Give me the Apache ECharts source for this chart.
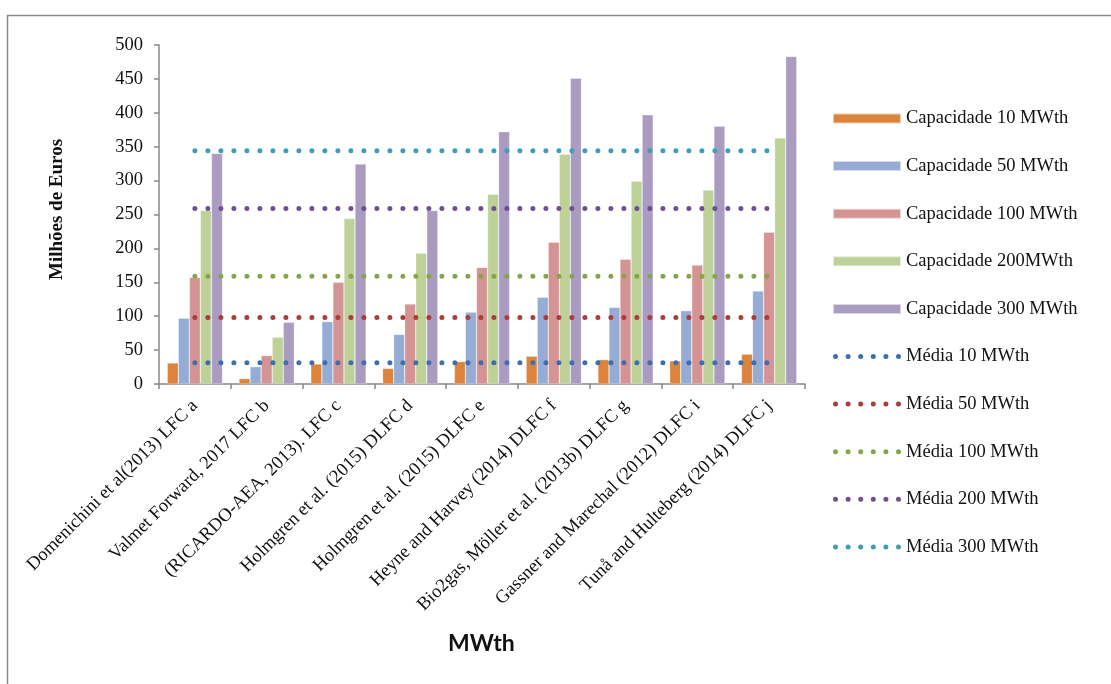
<!DOCTYPE html>
<html>
<head>
<meta charset="utf-8">
<style>
  html, body { margin: 0; padding: 0; background: #fff; }
  #chart { width: 1111px; height: 684px; }
</style>
<script src="https://cdn.jsdelivr.net/npm/echarts@6/dist/echarts.min.js"></script>
</head>
<body>
<div id="chart"></div>
<script>
// Cost per study and plant capacity (million euros)
const categories = [
  'Domenichini et al(2013) LFC a',
  'Valmet Forward, 2017 LFC b',
  '(RICARDO-AEA, 2013). LFC c',
  'Holmgren et al. (2015) DLFC d',
  'Holmgren et al. (2015) DLFC e',
  'Heyne and Harvey (2014) DLFC f',
  'Bio2gas, Möller et al. (2013b) DLFC g',
  'Gassner and Marechal (2012) DLFC i',
  'Tunå and Hulteberg (2014) DLFC j'
];
const cap10  = [31, 8, 29.5, 23, 33, 41, 36, 34, 44];
const cap50  = [97, 25.5, 92, 73, 106, 128, 113, 108, 137];
const cap100 = [157, 42, 150, 118, 172, 209, 184, 175.5, 224];
const cap200 = [256, 69, 244, 193, 280, 339, 299, 286, 363];
const cap300 = [340, 91, 324.5, 256, 372, 451, 397, 380, 483];

// Average per capacity (horizontal reference lines)
const mean10 = 31.4;
const mean50 = 98;
const mean100 = 159;
const mean200 = 259;
const mean300 = 344;

const yTicks = { min: 0, max: 500, interval: 50 };

const serif = 'Liberation Serif';

const barColors = ['#DD843C', '#95ACD5', '#D59494', '#BDD199', '#AA9CC1'];
const meanColors = ['#3E6EAB', '#AA3C3A', '#88A44B', '#6E4F91', '#3B9FB8'];

// six round dots in a 68 x 5 box, used as the legend key of the average lines
const dotIcon = 'path://' + [0, 1, 2, 3, 4, 5].map(i => {
  const cx = 2.5 + i * 12.6;
  return `M${cx - 2.5} 2.5 A2.5 2.5 0 1 0 ${cx + 2.5} 2.5 A2.5 2.5 0 1 0 ${cx - 2.5} 2.5 Z`;
}).join(' ');

function barSeries(name, data, color) {
  return {
    name, type: 'bar', data,
    barGap: '0%', barCategoryGap: '23%',
    itemStyle: { color, borderColor: 'rgba(255,255,255,0.6)', borderWidth: 0.5 }
  };
}
function meanSeries(name, value, color) {
  return {
    name, type: 'line',
    data: categories.map(() => value),
    symbol: 'none', silent: true, z: 5,
    lineStyle: { color, width: 5, type: [0, 13], cap: 'round' },
    itemStyle: { color }
  };
}

const barNames = ['Capacidade 10 MWth', 'Capacidade 50 MWth', 'Capacidade 100 MWth', 'Capacidade 200MWth', 'Capacidade 300 MWth'];
const meanNames = ['Média 10 MWth', 'Média 50 MWth', 'Média 100 MWth', 'Média 200 MWth', 'Média 300 MWth'];

const chart = echarts.init(document.getElementById('chart'), null, { renderer: 'canvas' });
chart.setOption({
  animation: false,
  backgroundColor: '#fff',
  grid: { left: 159, top: 45, width: 646, height: 339, containLabel: false },
  legend: {
    orient: 'vertical', left: 832, top: 108.5, padding: 0,
    itemWidth: 68, itemHeight: 10, itemGap: 27.6,
    textStyle: { fontFamily: serif, fontSize: 18.5, color: '#111', lineHeight: 20 },
    data: [
      ...barNames.map(name => ({ name, icon: 'rect' })),
      ...meanNames.map((name, i) => ({
        name, icon: dotIcon,
        itemStyle: { color: meanColors[i], borderWidth: 0 }
      }))
    ]
  },
  xAxis: {
    type: 'category', data: categories,
    axisLine: { lineStyle: { color: '#888', width: 1.5 } },
    axisTick: { show: true, alignWithLabel: false, length: 5, lineStyle: { color: '#888', width: 1.5 } },
    axisLabel: { interval: 0, rotate: 45, margin: 19, fontFamily: serif, fontSize: 18.5, color: '#111' }
  },
  yAxis: {
    type: 'value', min: yTicks.min, max: yTicks.max, interval: yTicks.interval,
    name: 'Milhões de Euros', nameLocation: 'middle', nameRotate: 90, nameGap: 92,
    nameTextStyle: { fontFamily: serif, fontSize: 19, fontWeight: 'bold', color: '#111', padding: [0, 0, 0, 10] },
    axisLine: { show: true, lineStyle: { color: '#888', width: 1.5 } },
    axisTick: { show: true, length: 5, lineStyle: { color: '#888', width: 1.5 } },
    splitLine: { show: false },
    axisLabel: { margin: 16, fontFamily: serif, fontSize: 18.5, color: '#111' }
  },
  series: [
    ...barNames.map((n, i) => barSeries(n, [cap10, cap50, cap100, cap200, cap300][i], barColors[i])),
    meanSeries(meanNames[0], mean10, meanColors[0]),
    meanSeries(meanNames[1], mean50, meanColors[1]),
    meanSeries(meanNames[2], mean100, meanColors[2]),
    meanSeries(meanNames[3], mean200, meanColors[3]),
    meanSeries(meanNames[4], mean300, meanColors[4])
  ],
  graphic: [
    // chart frame (top and left edges)
    { type: 'line', shape: { x1: 7, y1: 15.5, x2: 1111, y2: 15.5 }, style: { stroke: '#8a8a8a', lineWidth: 1.5 } },
    { type: 'line', shape: { x1: 7.5, y1: 15, x2: 7.5, y2: 684 }, style: { stroke: '#8a8a8a', lineWidth: 1.5 } },
    // horizontal axis title
    { type: 'text', left: 448, top: 632,
      style: { text: 'MWth', font: 'bold 23px Lato', fill: '#111' } }
  ]
});
</script>
</body>
</html>
